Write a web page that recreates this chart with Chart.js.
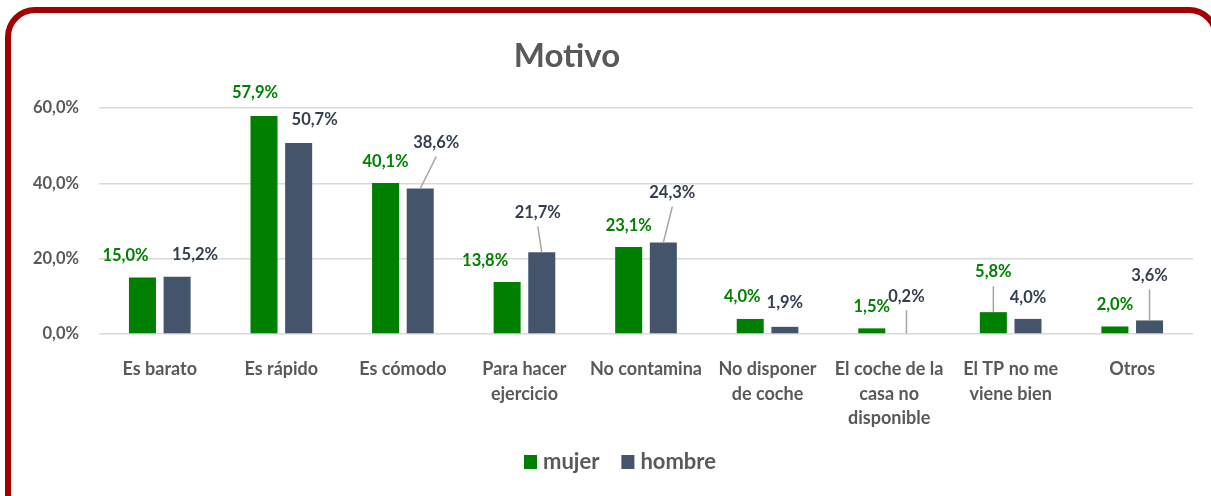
<!DOCTYPE html>
<html>
<head>
<meta charset="utf-8">
<script src="https://cdn.jsdelivr.net/npm/chart.js@4/dist/chart.umd.min.js"></script>
<style>
  html, body { margin: 0; padding: 0; width: 1211px; height: 496px; overflow: hidden; background: #fff; }
  #frame { position: absolute; left: 5px; top: 7px; width: 1202px; height: 520px; border: 6px solid #A50000; border-radius: 30px; background: #fff; }
  #chart { position: absolute; left: 0; top: 0; }
</style>
</head>
<body>
<div id="frame"></div>
<canvas id="chart" width="1211" height="496"></canvas>
<script>
// Chart data
const categories = [
  ['Es barato'], ['Es rápido'], ['Es cómodo'], ['Para hacer', 'ejercicio'], ['No contamina'],
  ['No disponer', 'de coche'], ['El coche de la', 'casa no', 'disponible'], ['El TP no me', 'viene bien'], ['Otros']
];
const mujer = [15.0, 57.9, 40.1, 13.8, 23.1, 4.0, 1.5, 5.8, 2.0];
const hombre = [15.2, 50.7, 38.6, 21.7, 24.3, 1.9, 0.2, 4.0, 3.6];
const yTicks = [0, 20, 40, 60];

// Where each value label sits relative to the top of its bar: [dx, dy, leader line]
const labelShifts = [
  [[-17, -22], [-9, -23], [0, -21], [-22, -21], [0, -21], [-8, -22], [0, -22], [0, -40, true], [0, -22]],
  [[18, -22], [16, -23], [16, -46, true], [-4, -40, true], [9, -50, true], [0, -24], [0, -37, true], [0, -21], [0, -45, true]]
];
const labelColors = ['#008000', '#333F50'];
const FONT = 'Lato, "Open Sans", sans-serif';

const pct = v => v.toFixed(1).replace('.', ',') + '%';

const valueLabels = {
  id: 'valueLabels',
  afterDatasetsDraw(chart) {
    const ctx = chart.ctx;
    ctx.save();
    ctx.font = 'bold 16.5px ' + FONT;
    ctx.textAlign = 'center';
    ctx.textBaseline = 'middle';
    chart.data.datasets.forEach((ds, di) => {
      chart.getDatasetMeta(di).data.forEach((bar, i) => {
        const [dx, dy, leader] = labelShifts[di][i];
        const lx = bar.x + dx, ly = bar.y + dy;
        if (leader) {
          ctx.strokeStyle = '#A6A6A6';
          ctx.lineWidth = 1.5;
          ctx.beginPath();
          ctx.moveTo(lx, ly + 14);
          ctx.lineTo(bar.x, bar.y);
          ctx.stroke();
        }
        ctx.fillStyle = labelColors[di];
        ctx.fillText(pct(ds.data[i]), lx, ly);
      });
    });
    ctx.restore();
  }
};

// Title and legend drawn by hand so they sit where the original puts them
const titleAndLegend = {
  id: 'titleAndLegend',
  afterDraw(chart) {
    const ctx = chart.ctx;
    ctx.save();
    ctx.fillStyle = '#595959';
    ctx.font = 'bold 33px ' + FONT;
    ctx.textAlign = 'center';
    ctx.textBaseline = 'middle';
    ctx.fillText('Motivo', 567, 56);

    ctx.font = 'bold 22px ' + FONT;
    ctx.textAlign = 'left';
    const items = chart.data.datasets.map(ds => ({ text: ds.label, color: ds.backgroundColor }));
    const box = 13, gap = 6, spacing = 22;
    let total = 0;
    items.forEach((it, i) => { total += box + gap + ctx.measureText(it.text).width + (i ? spacing : 0); });
    let x = 620 - total / 2;
    const y = 462;
    items.forEach(it => {
      ctx.fillStyle = it.color;
      ctx.fillRect(x, y - 7, box, 14);
      x += box + gap;
      ctx.fillStyle = '#595959';
      ctx.fillText(it.text, x, y);
      x += ctx.measureText(it.text).width + spacing;
    });
    ctx.restore();
  }
};

new Chart(document.getElementById('chart').getContext('2d'), {
  type: 'bar',
  data: {
    labels: categories,
    datasets: [
      { label: 'mujer', data: mujer, backgroundColor: '#008000' },
      { label: 'hombre', data: hombre, backgroundColor: '#44546A' }
    ]
  },
  options: {
    responsive: false,
    animation: false,
    layout: { padding: { top: 108, right: 18, bottom: 60, left: 0 } },
    datasets: { bar: { categoryPercentage: 0.57, barPercentage: 0.78 } },
    plugins: {
      legend: { display: false },
      title: { display: false },
      tooltip: { enabled: false }
    },
    scales: {
      x: {
        grid: { display: false },
        border: { display: false },
        ticks: {
          color: '#595959',
          font: { family: FONT, size: 18, weight: 'bold', lineHeight: 1.36 },
          padding: 15,
          maxRotation: 0,
          autoSkip: false
        },
        afterFit(scale) { scale.height = 102; }
      },
      y: {
        min: 0,
        max: 60,
        afterBuildTicks(scale) { scale.ticks = yTicks.map(v => ({ value: v })); },
        ticks: {
          color: '#595959',
          font: { family: FONT, size: 16.5, weight: 'bold' },
          padding: 20,
          callback: v => pct(v)
        },
        grid: { color: '#D9D9D9', lineWidth: 1.5, drawTicks: false },
        border: { display: false },
        afterFit(scale) { scale.width = 99; }
      }
    }
  },
  plugins: [valueLabels, titleAndLegend]
});
</script>
</body>
</html>
